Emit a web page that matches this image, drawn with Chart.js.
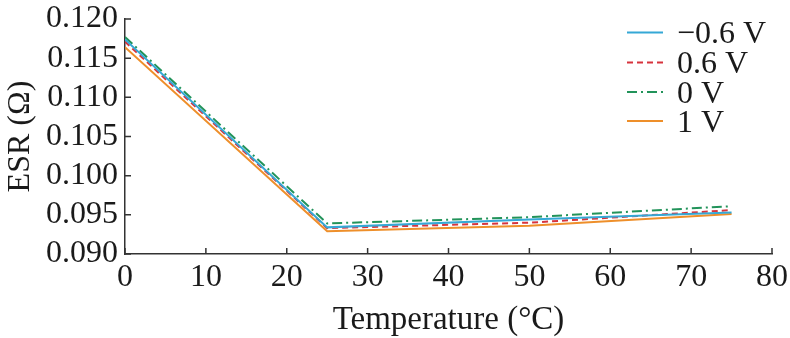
<!DOCTYPE html>
<html>
<head>
<meta charset="utf-8">
<script src="https://cdn.jsdelivr.net/npm/chart.js@4/dist/chart.umd.min.js"></script>
<style>
html,body{margin:0;padding:0;background:#fff;}
#wrap{width:790px;height:338px;position:relative;}
</style>
</head>
<body>
<div id="wrap"><canvas id="c" width="790" height="338"></canvas></div>
<script>
const temperatures = [0, 25, 50, 75];
const seriesNames = ['\u22120.6 V', '0.6 V', '0 V', '1 V'];
const esrNeg06 = [0.1174, 0.0934, 0.0944, 0.0953];
const esr06    = [0.1171, 0.0933, 0.0940, 0.0956];
const esr0     = [0.1177, 0.0939, 0.0947, 0.0961];
const esr1     = [0.1164, 0.0929, 0.0936, 0.0951];
const xTicks = [0, 10, 20, 30, 40, 50, 60, 70, 80];
const yTicks = [0.090, 0.095, 0.100, 0.105, 0.110, 0.115, 0.120];

const colors = ['#35A8D6', '#D7333D', '#22935A', '#EE8F2A'];
const dashes = [[], [6, 4], [10, 4, 2, 4], []];
const values = [esrNeg06, esr06, esr0, esr1];
const FONT = '"Liberation Serif", "Times New Roman", serif';
const AXIS = '#333';

const datasets = values.map((vals, i) => ({
  label: seriesNames[i],
  data: vals.map((v, j) => ({x: temperatures[j], y: v})),
  borderColor: colors[i],
  backgroundColor: colors[i],
  borderWidth: 2,
  borderDash: dashes[i],
  pointRadius: 0,
  tension: 0,
  fill: false
}));

const tickPlugin = {
  id: 'inTicks',
  afterDraw(chart) {
    const ctx = chart.ctx;
    const xs = chart.scales.x, ys = chart.scales.y;
    const a = chart.chartArea;
    ctx.save();
    ctx.strokeStyle = AXIS;
    ctx.lineWidth = 1.5;
    ctx.beginPath();
    xTicks.forEach(t => {
      const px = xs.getPixelForValue(t);
      ctx.moveTo(px, a.bottom);
      ctx.lineTo(px, a.bottom - 6);
    });
    yTicks.forEach(t => {
      const py = ys.getPixelForValue(t);
      ctx.moveTo(a.left, py);
      ctx.lineTo(a.left + 6, py);
    });
    ctx.stroke();
    // legend
    const base = [43, 73, 102.5, 131.5];
    ctx.font = '32px ' + FONT;
    ctx.textBaseline = 'alphabetic';
    ctx.textAlign = 'left';
    seriesNames.forEach((n, i) => {
      const ly = base[i] - 10.5;
      ctx.beginPath();
      ctx.strokeStyle = colors[i];
      ctx.lineWidth = 2;
      ctx.setLineDash(dashes[i]);
      ctx.moveTo(627, ly);
      ctx.lineTo(663, ly);
      ctx.stroke();
      ctx.setLineDash([]);
      ctx.fillStyle = '#1a1a1a';
      ctx.fillText(n, 677, base[i]);
    });
    ctx.restore();
  }
};

new Chart(document.getElementById('c'), {
  type: 'line',
  data: { datasets },
  options: {
    responsive: false,
    animation: false,
    layout: { padding: { top: 19, right: 18, left: 0, bottom: 0 } },
    plugins: { legend: { display: false }, tooltip: { enabled: false } },
    scales: {
      x: {
        type: 'linear',
        min: 0, max: 80,
        afterBuildTicks: s => { s.ticks = xTicks.map(v => ({value: v})); },
        afterFit: s => { s.height = 84; s.paddingLeft = 0; s.paddingRight = 0; },
        grid: { display: false, drawTicks: false },
        border: { display: true, color: AXIS, width: 1.5 },
        ticks: { color: '#1a1a1a', padding: 4, font: { family: FONT, size: 32 }, maxRotation: 0, autoSkip: false,
                 callback: v => String(v) },
        title: { display: true, text: 'Temperature (\u00B0C)', color: '#1a1a1a',
                 font: { family: FONT, size: 33, lineHeight: 1.1 }, padding: { top: 0, bottom: 0 } }
      },
      y: {
        type: 'linear',
        min: 0.090, max: 0.120,
        afterBuildTicks: s => { s.ticks = yTicks.map(v => ({value: v})); },
        afterFit: s => { s.width = 125; s.paddingTop = 0; s.paddingBottom = 0; },
        grid: { display: false, drawTicks: false },
        border: { display: true, color: AXIS, width: 1.5 },
        ticks: { color: '#1a1a1a', padding: 7, font: { family: FONT, size: 32 }, autoSkip: false,
                 callback: v => Number(v).toFixed(3) },
        title: { display: true, text: 'ESR (\u03A9)', color: '#1a1a1a',
                 font: { family: FONT, size: 32 }, padding: { top: 1, bottom: 0 } }
      }
    }
  },
  plugins: [tickPlugin]
});
</script>
</body>
</html>
